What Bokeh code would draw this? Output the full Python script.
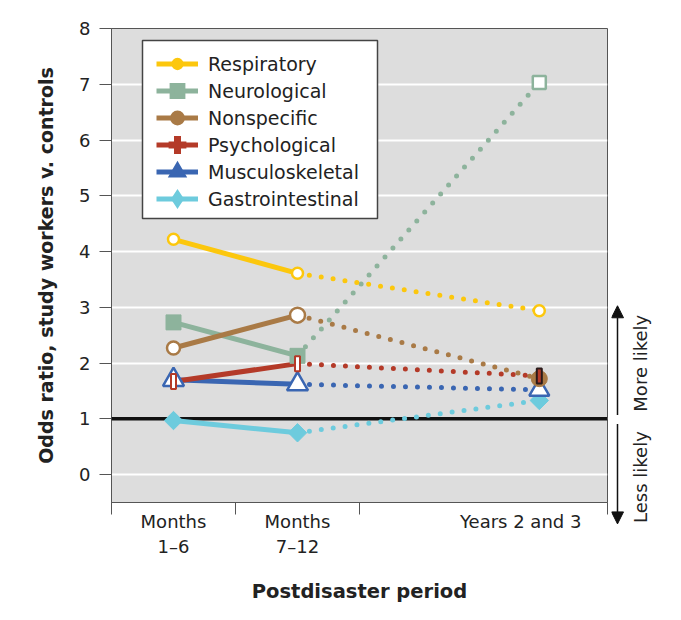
import numpy as np
from bokeh.plotting import figure
from bokeh.layouts import row
from bokeh.models import (Range1d, FixedTicker, Span, Arrow, NormalHead, Label,
                          Legend, LegendItem, BoxAnnotation, LinearAxis)
from bokeh.embed import file_html
from bokeh.resources import INLINE

FONT = "DejaVu Sans"
TEXT = "#222222"
AXIS = "#555555"

# ---------------- data ----------------
periods = ["Months\n1\u20136", "Months\n7\u201312", "Years 2 and 3"]
series_names = ["Respiratory", "Neurological", "Nonspecific",
                "Psychological", "Musculoskeletal", "Gastrointestinal"]
respiratory = [4.22, 3.61, 2.94]
neurological = [2.73, 2.13, 7.03]
nonspecific = [2.27, 2.86, 1.72]
psychological = [1.67, 1.99, 1.77]
musculoskeletal = [1.70, 1.62, 1.52]
gastrointestinal = [0.97, 0.75, 1.33]
y_ticks = [0, 1, 2, 3, 4, 5, 6, 7, 8]
reference_odds = 1.0
more_label = "More likely"
less_label = "Less likely"

# ---------------- layout config ----------------
period_x = [0.5, 1.5, 3.45]          # x position of each period on the axis
period_label_x = [0.5, 1.5, 3.3]     # where the period labels sit
period_bounds = [0, 1, 2, 4]         # separator ticks

values = dict(zip(series_names, [respiratory, neurological, nonspecific,
                                 psychological, musculoskeletal, gastrointestinal]))

styles = {
    "Respiratory":      dict(color="#FCC70D", marker="circle",   size=[11, 11, 11], filled=[False, False, False], legend="circle",   legend_lw=1.5),
    "Neurological":     dict(color="#8DB39C", marker="square",   size=[15, 15, 13], filled=[True, True, False],   legend="square",   legend_lw=5),
    "Nonspecific":      dict(color="#A97A46", marker="circle",   size=[13, 15, 16], filled=[False, False, True],  legend="circle",   legend_lw=4),
    "Psychological":    dict(color="#B43A28", marker="rect",     size=[15, 15, 15], filled=[False, False, True],  legend="cross",    legend_lw=7),
    "Musculoskeletal":  dict(color="#3A66B2", marker="triangle", size=[21, 21, 20], filled=[False, False, False], legend="triangle", legend_lw=5),
    "Gastrointestinal": dict(color="#6DCBDD", marker="square",   size=[13, 13, 13], filled=[True, True, True],    legend="diamond",  legend_lw=5),
}
draw_order = ["Gastrointestinal", "Musculoskeletal", "Neurological",
              "Nonspecific", "Psychological", "Respiratory"]

p = figure(frame_width=496, frame_height=474, x_range=Range1d(0, 4), y_range=Range1d(-0.5, 8),
           toolbar_location=None, output_backend="svg",
           min_border_left=111, min_border_right=4, min_border_top=28, min_border_bottom=112)
p.background_fill_color = "#DDDDDD"
p.border_fill_color = "white"
p.outline_line_color = AXIS
p.outline_line_width = 1

p.xgrid.visible = False
p.ygrid.grid_line_color = "white"
p.ygrid.grid_line_width = 2
p.ygrid.ticker = FixedTicker(ticks=y_ticks)

p.add_layout(Span(location=reference_odds, dimension="width", line_color="#111111",
                  line_width=3.5, level="underlay"))

# lines: solid first half-year to second, dotted to years 2-3
for name in draw_order:
    st = styles[name]
    v = values[name]
    p.line(period_x[:2], v[:2], line_color=st["color"], line_width=5)
    p.line(period_x[1:], v[1:], line_color=st["color"], line_width=5,
           line_dash="0 12", line_cap="round")

# markers
for name in draw_order:
    st = styles[name]
    v = values[name]
    fills = [st["color"] if f else "white" for f in st["filled"]]
    if st["marker"] == "rect":
        lines = [st["color"] if not f else "#2a1a1a" for f in st["filled"]]
        p.rect(period_x, v, width=5, height=st["size"], width_units="screen",
               height_units="screen", fill_color=fills, line_color=lines, line_width=2)
    else:
        angle = np.pi / 4 if name == "Gastrointestinal" else 0.0
        lw = [1 if f else 2.5 for f in st["filled"]]
        p.scatter(period_x, v, marker=st["marker"], size=st["size"], angle=angle,
                  fill_color=fills, line_color=st["color"], line_width=lw)

# legend box + legend (dummy renderers with no visible data)
box = BoxAnnotation(left=142, right=377, top=40, bottom=218,
                    left_units="canvas", right_units="canvas",
                    top_units="canvas", bottom_units="canvas",
                    fill_color="white", fill_alpha=1, line_color="#444444",
                    line_width=1.5, line_alpha=1)
p.add_layout(box)

items = []
for name in series_names:
    st = styles[name]
    lr = p.line([np.nan], [np.nan], line_color=st["color"], line_width=5)
    sr = p.scatter([np.nan], [np.nan], marker=st["legend"], fill_color=st["color"],
                   line_color=st["color"], line_width=st["legend_lw"],
                   line_join="miter", line_cap="square")
    items.append(LegendItem(label=name, renderers=[lr, sr]))

legend = Legend(items=items, location=(45, 290), padding=0, spacing=0,
                glyph_width=42, glyph_height=27, label_height=27, label_standoff=10,
                label_text_font=FONT, label_text_font_size="19px",
                label_text_color=TEXT, border_line_alpha=0, background_fill_alpha=0)
p.add_layout(legend)

# axes
ya = p.yaxis[0]
ya.ticker = FixedTicker(ticks=y_ticks)
ya.major_tick_out = 12
ya.major_tick_in = 0
ya.minor_tick_out = 0
ya.minor_tick_in = 0
ya.axis_line_color = AXIS
ya.major_tick_line_color = AXIS
ya.major_label_text_font = FONT
ya.major_label_text_font_size = "18px"
ya.major_label_text_color = TEXT
ya.major_label_standoff = 9
ya.axis_label = "Odds ratio, study workers v. controls"
ya.axis_label_text_font = FONT
ya.axis_label_text_font_style = "bold"
ya.axis_label_text_font_size = "19px"
ya.axis_label_text_color = TEXT
ya.axis_label_standoff = 19

# heavier tick marking the reference odds ratio of 1
ref_axis = LinearAxis(ticker=FixedTicker(ticks=[reference_odds], minor_ticks=[]),
                      fixed_location=0, major_tick_out=12, major_tick_in=0,
                      major_tick_line_width=3.5, major_tick_line_color="#111111",
                      axis_line_color=None, major_label_text_alpha=0,
                      minor_tick_out=0, minor_tick_in=0)
p.add_layout(ref_axis, "left")

xa = p.xaxis[0]
xa.ticker = FixedTicker(ticks=period_label_x, minor_ticks=period_bounds)
xa.major_label_overrides = {k: lab for k, lab in zip(period_label_x, periods)}
xa.major_tick_out = 0
xa.major_tick_in = 0
xa.minor_tick_out = 12
xa.minor_tick_in = 0
xa.minor_tick_line_color = AXIS
xa.axis_line_color = AXIS
xa.major_label_text_font = FONT
xa.major_label_text_font_size = "18px"
xa.major_label_text_color = TEXT
xa.major_label_standoff = -4
xa.axis_label = "Postdisaster period"
xa.axis_label_text_font = FONT
xa.axis_label_text_font_style = "bold"
xa.axis_label_text_font_size = "19.5px"
xa.axis_label_text_color = TEXT
xa.axis_label_standoff = 20

# side panel with likelihood arrows
p2 = figure(frame_width=62, frame_height=530, x_range=Range1d(0, 62), y_range=Range1d(-1.5, 8),
            toolbar_location=None, output_backend="svg",
            min_border_left=0, min_border_right=0, min_border_top=28, min_border_bottom=10)
p2.axis.visible = False
p2.grid.visible = False
p2.outline_line_color = None
p2.background_fill_color = "white"
p2.border_fill_color = "white"

p2.add_layout(Arrow(x_start=6, y_start=1.07, x_end=6, y_end=3.03, line_width=1.5,
                    line_color="#111111",
                    end=NormalHead(size=12, fill_color="#111111", line_color="#111111")))
p2.add_layout(Arrow(x_start=6, y_start=0.91, x_end=6, y_end=-0.88, line_width=1.5,
                    line_color="#111111",
                    end=NormalHead(size=12, fill_color="#111111", line_color="#111111")))
p2.add_layout(Label(x=29, y=2.0, text=more_label, angle=np.pi / 2, text_align="center",
                    text_baseline="middle", text_font=FONT, text_font_size="18px",
                    text_color=TEXT))
p2.add_layout(Label(x=29, y=-0.04, text=less_label, angle=np.pi / 2, text_align="center",
                    text_baseline="middle", text_font=FONT, text_font_size="18px",
                    text_color=TEXT))

layout = row(p, p2, spacing=0)
open("out.html", "w").write(file_html(layout, INLINE))
